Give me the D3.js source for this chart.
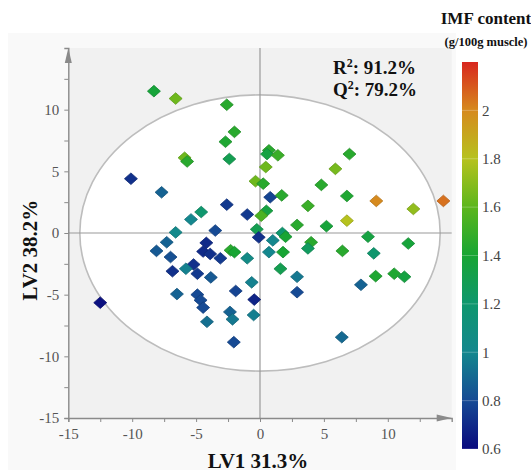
<!DOCTYPE html>
<html><head><meta charset="utf-8">
<script src="https://cdn.jsdelivr.net/npm/d3@7"></script>
<style>body{margin:0;background:#fff}svg{display:block}</style>
</head><body>
<svg id="c" width="531" height="473"></svg>
<script>
// LV1 scores, LV2 scores, IMF content
const lv1 = [-8.3,-6.6,-2.6,-2.0,-2.7,-5.9,-5.7,-2.4,-10.1,-7.7,-2.6,-1.0,-4.6,-5.4,-3.5,-6.6,
  0.7,0.55,1.4,0.45,-0.35,0.25,0.8,1.7,0.5,0.1,-0.25,-0.1,1.0,1.75,2.0,2.9,5.2,6.8,8.45,11.6,
  4.0,3.75,6.45,8.9,0.7,1.8,1.6,2.9,9.05,10.5,11.3,7.9,2.9,6.4,
  7.0,5.9,4.8,6.8,9.1,3.75,12.0,14.35,
  -7.3,-8.1,-4.2,-4.45,-3.9,-3.1,-2.3,-2.0,-1.0,-7.0,-5.2,-5.8,-4.9,-6.85,-3.85,-0.65,-1.9,-0.45,
  -6.5,-4.9,-4.65,-4.45,-4.15,-2.35,-2.15,-0.5,-2.05,-12.5];
const lv2 = [11.5,10.9,10.4,8.2,7.4,6.1,5.8,6.0,4.4,3.3,2.3,1.5,1.7,1.1,0.2,0.05,
  6.7,6.4,6.3,5.35,4.2,4.0,2.9,3.05,1.8,1.4,0.3,-0.35,-0.6,0.0,-0.3,0.65,0.55,1.0,-0.3,-0.85,
  -0.75,-1.25,-1.45,-1.65,-1.55,-1.55,-2.9,-3.55,-3.5,-3.3,-3.55,-4.2,-4.8,-8.45,
  6.4,5.2,3.9,3.0,2.6,2.2,1.95,2.6,
  -0.75,-1.45,-0.8,-1.5,-1.7,-2.05,-1.4,-1.55,-2.05,-1.95,-2.55,-2.9,-3.3,-3.1,-3.6,-4.0,-4.7,-5.4,
  -4.95,-5.0,-5.45,-6.05,-7.2,-6.4,-7.0,-6.65,-8.85,-5.65];
const imf = [1.38,1.64,1.45,1.45,1.42,1.64,1.45,1.3,0.72,0.88,0.75,0.75,1.2,1.0,0.8,1.02,
  1.45,1.35,1.5,1.64,1.64,1.45,0.78,1.45,1.35,1.55,1.3,0.72,1.0,1.2,1.4,1.45,1.38,1.8,1.35,1.38,
  1.45,1.25,1.45,1.2,1.0,1.4,1.3,0.95,1.42,1.42,1.35,0.88,0.8,0.9,
  1.45,1.66,1.45,1.42,2.0,1.5,1.72,2.05,
  0.88,0.85,0.7,0.7,0.72,0.75,1.45,1.4,1.05,0.82,0.72,0.98,0.75,0.72,0.85,0.98,0.78,0.68,
  0.88,0.8,0.8,0.8,0.92,0.88,0.95,0.97,0.8,0.62];
const xTicks = [-15,-10,-5,0,5,10];
const yTicks = [-15,-10,-5,0,5,10];
const cbTicks = [0.6,0.8,1,1.2,1.4,1.6,1.8,2];
const colorStops = [0.6,0.8,1.0,1.2,1.4,1.6,1.8,2.0,2.2];
const colorRange = ['#0a0a7e','#164a94','#14878e','#0f976e','#18a534','#5cb61c','#b6c21e','#d68a1e','#d8261e'];

const svg = d3.select('#c');
const serif = "'Liberation Serif','Times New Roman',serif";
const x = d3.scaleLinear([-15,15],[68.3,451.7]);
const y = d3.scaleLinear([-15,15],[418,48]);
const color = d3.scaleLinear(colorStops, colorRange).clamp(true);

// backgrounds
svg.append('rect').attr('x',8).attr('y',33).attr('width',448).attr('height',437).attr('fill','#f9f9f9');
svg.append('rect').attr('x',x(-15)).attr('y',y(15)).attr('width',x(15)-x(-15)).attr('height',y(-15)-y(15)).attr('fill','#f1f1f1');

// ellipse
svg.append('ellipse').attr('cx',x(0)).attr('cy',y(0))
  .attr('rx',x(14.1)-x(0)).attr('ry',y(0)-y(11.2))
  .attr('fill','#fff').attr('stroke','#bdbdbd').attr('stroke-width',1.6);

// zero lines
svg.append('line').attr('x1',x(0)).attr('x2',x(0)).attr('y1',y(15)).attr('y2',y(-15)).attr('stroke','#9a9a9a').attr('stroke-width',1.2);
svg.append('line').attr('x1',x(-15)).attr('x2',x(15)).attr('y1',y(0)).attr('y2',y(0)).attr('stroke','#9a9a9a').attr('stroke-width',1.2);

// axes
const minor = d3.range(-15,15,2.5);
const ax = svg.append('g').attr('transform',`translate(0,${y(-15)})`)
  .call(d3.axisBottom(x).tickValues(minor).tickSize(4).tickPadding(6).tickFormat(d=>xTicks.includes(d)?d:''));
const ay = svg.append('g').attr('transform',`translate(${x(-15)},0)`)
  .call(d3.axisLeft(y).tickValues(minor).tickSize(4).tickPadding(5).tickFormat(d=>yTicks.includes(d)?d:''));
[ax,ay].forEach(g=>{
  g.attr('font-family',serif).attr('font-size',15);
  g.select('.domain').attr('stroke','#8a8a8a').attr('stroke-width',1.4);
  g.selectAll('.tick line').attr('stroke','#8a8a8a');
  g.selectAll('.tick text').attr('fill','#555').attr('font-family',serif).style('font-family',serif).style('font-size','15px');
});
// arrows
svg.append('path').attr('d',`M${x(15)},${y(-15)}L${x(15)-15},${y(-15)-3.5}L${x(15)-15},${y(-15)+3.5}Z`).attr('fill','#8a8a8a');
svg.append('path').attr('d',`M${x(-15)},${y(15)}L${x(-15)-3.5},${y(15)+15}L${x(-15)+3.5},${y(15)+15}Z`).attr('fill','#8a8a8a');

// points
const pts = lv1.map((v,i)=>({x:v,y:lv2[i],v:imf[i]}));
svg.append('g').selectAll('path').data(pts).join('path')
  .attr('transform',d=>`translate(${x(d.x)},${y(d.y)})`)
  .attr('d','M0,-5.8L6.5,0L0,5.8L-6.5,0Z')
  .attr('fill',d=>color(d.v))
  .attr('stroke',d=>d3.color(color(d.v)).darker(0.5))
  .attr('stroke-width',0.8);

// stats text
const st = svg.append('text').attr('x',333).attr('y',74).style('font-family',serif).style('font-size','19px').style('font-weight','bold').attr('fill','#111');
st.append('tspan').text('R');
st.append('tspan').text('2').attr('dy',-7).style('font-size','12px');
st.append('tspan').text(': 91.2%').attr('dy',7);
const qt = svg.append('text').attr('x',333).attr('y',96).style('font-family',serif).style('font-size','19px').style('font-weight','bold').attr('fill','#111');
qt.append('tspan').text('Q');
qt.append('tspan').text('2').attr('dy',-7).style('font-size','12px');
qt.append('tspan').text(': 79.2%').attr('dy',7);

// axis titles
svg.append('text').attr('x',258).attr('y',468).attr('text-anchor','middle')
  .style('font-family',serif).style('font-size','21px').style('font-weight','bold').attr('fill','#111').text('LV1 31.3%');
svg.append('text').attr('transform',`translate(37,250) rotate(-90)`).attr('text-anchor','middle')
  .style('font-family',serif).style('font-size','21px').style('font-weight','bold').attr('fill','#111').text('LV2 38.2%');

// colorbar
const cb = d3.scaleLinear([0.6,2.2],[449,62]);
const grad = svg.append('defs').append('linearGradient').attr('id','g').attr('x1',0).attr('x2',0).attr('y1',1).attr('y2',0);
colorStops.forEach((s,i)=>grad.append('stop').attr('offset',(s-0.6)/1.6).attr('stop-color',colorRange[i]));
svg.append('rect').attr('x',462).attr('y',cb(2.2)).attr('width',16).attr('height',cb(0.6)-cb(2.2)).attr('fill','url(#g)');
const cbg = svg.append('g').selectAll('g').data(cbTicks).join('g');
cbg.append('line').attr('x1',462).attr('x2',478).attr('y1',d=>cb(d)).attr('y2',d=>cb(d)).attr('stroke','#fff').attr('stroke-opacity',0.25);
cbg.append('text').attr('x',482).attr('y',d=>cb(d)).attr('dy','0.35em')
  .style('font-family',serif).style('font-size','15px').attr('fill','#444').text(d=>d);

svg.append('text').attr('x',486).attr('y',24).attr('text-anchor','middle')
  .style('font-family',serif).style('font-size','17px').style('font-weight','bold').attr('fill','#111').text('IMF content');
svg.append('text').attr('x',486).attr('y',46).attr('text-anchor','middle')
  .style('font-family',serif).style('font-size','12.5px').style('font-weight','bold').attr('fill','#111').text('(g/100g muscle)');
</script>
</body></html>
